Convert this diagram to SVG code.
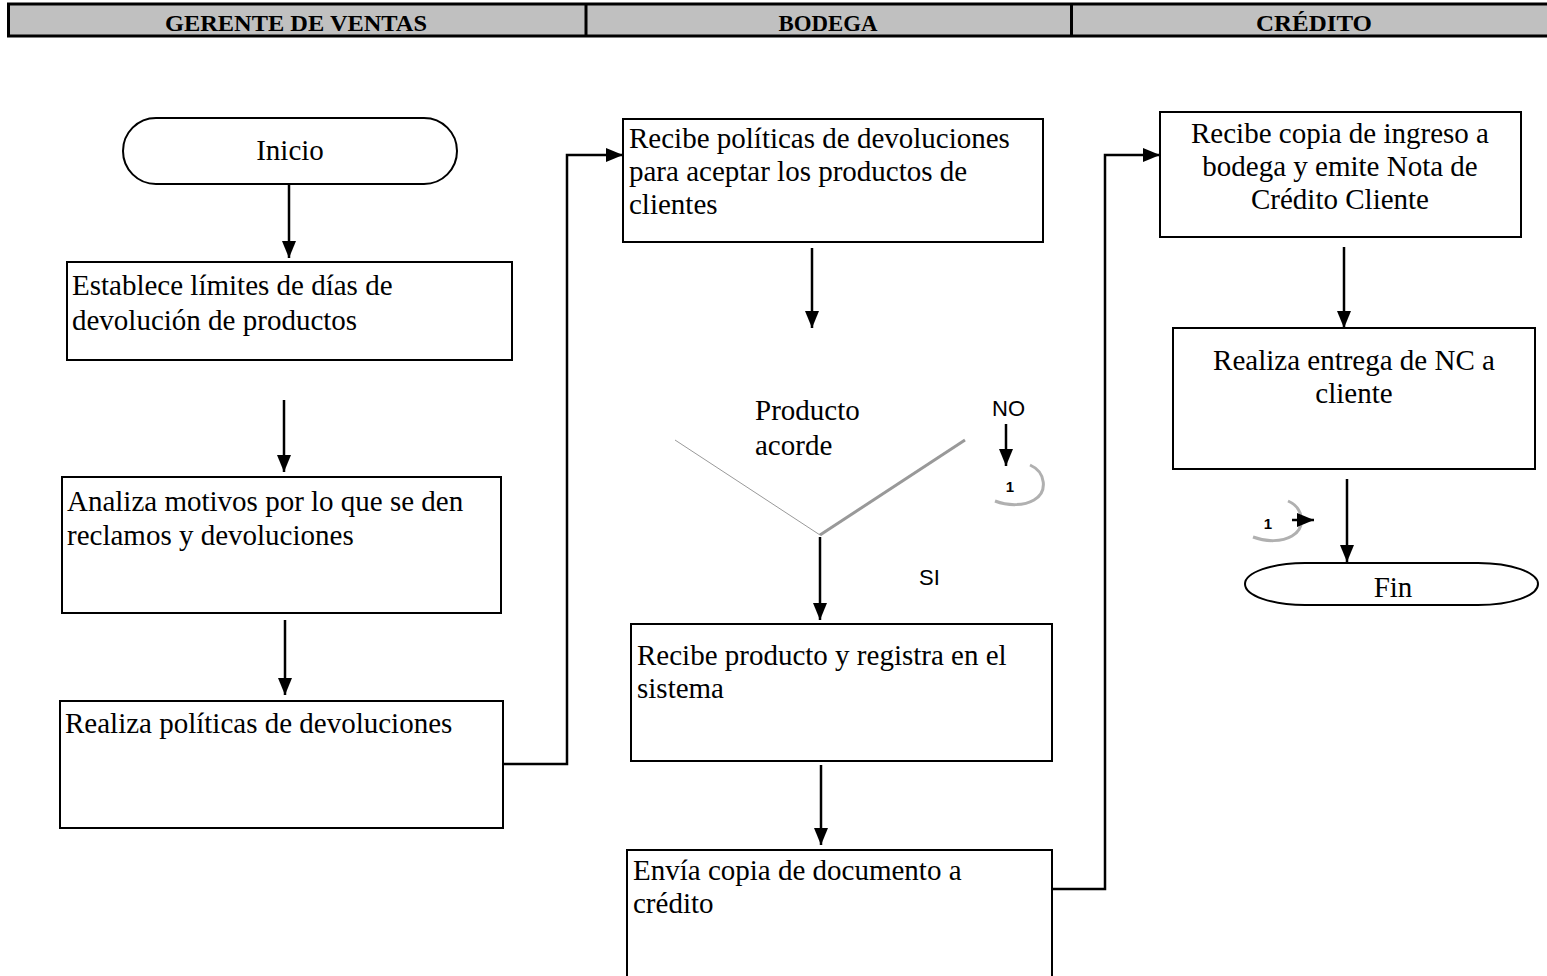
<svg xmlns="http://www.w3.org/2000/svg" width="1547" height="976" viewBox="0 0 1547 976">
<defs>
<marker id="ah" viewBox="0 0 17 14" refX="17" refY="7" markerWidth="17" markerHeight="14" markerUnits="userSpaceOnUse" orient="auto">
<path d="M0,0 L17,7 L0,14 z" fill="#000"/>
</marker>
</defs>
<style>
.box{fill:#fff;stroke:#000;stroke-width:2}
.t{font-family:"Liberation Serif","Times New Roman",serif;font-size:29px;fill:#000}
.c{text-anchor:middle}
.h{font-family:"Liberation Serif","Times New Roman",serif;font-size:23px;font-weight:bold;fill:#000;text-anchor:middle}
.a{font-family:"Liberation Sans",Arial,sans-serif;font-size:22px;fill:#000}
.n{font-family:"Liberation Sans",Arial,sans-serif;font-size:15px;font-weight:bold;fill:#000;text-anchor:middle}
.ar{fill:none;stroke:#000;stroke-width:2.5;marker-end:url(#ah)}
.sh{fill:none;stroke:#b0b0b0;stroke-width:3}
</style>
<rect width="1547" height="976" fill="#fff"/>
<g id="header">
<rect x="8.5" y="4" width="1545" height="32" fill="#c0c0c0" stroke="#000" stroke-width="3"/>
<line x1="586" y1="4" x2="586" y2="36" stroke="#000" stroke-width="3"/>
<line x1="1071.5" y1="4" x2="1071.5" y2="36" stroke="#000" stroke-width="3"/>
<text class="h" x="296" y="31" textLength="262" lengthAdjust="spacingAndGlyphs">GERENTE DE VENTAS</text>
<text class="h" x="828" y="31" textLength="99" lengthAdjust="spacingAndGlyphs">BODEGA</text>
<text class="h" x="1314" y="31" textLength="116" lengthAdjust="spacingAndGlyphs">CRÉDITO</text>
</g>
<g id="inicio">
<rect class="box" x="123" y="118" width="334" height="66" rx="33" ry="33"/>
<text class="t c" x="290" y="160">Inicio</text>
</g>
<g id="n1">
<rect class="box" x="67" y="262" width="445" height="98"/>
<text class="t" x="72" y="295">Establece límites de días de</text>
<text class="t" x="72" y="330">devolución de productos</text>
</g>
<g id="n2">
<rect class="box" x="62" y="477" width="439" height="136"/>
<text class="t" x="67" y="511">Analiza motivos por lo que se den</text>
<text class="t" x="67" y="545">reclamos y devoluciones</text>
</g>
<g id="n3">
<rect class="box" x="60" y="701" width="443" height="127"/>
<text class="t" x="65" y="733">Realiza políticas de devoluciones</text>
</g>
<g id="n4">
<rect class="box" x="623" y="119" width="420" height="123"/>
<text class="t" x="629" y="148">Recibe políticas de devoluciones</text>
<text class="t" x="629" y="181">para aceptar los productos de</text>
<text class="t" x="629" y="214">clientes</text>
</g>
<g id="decision">
<line x1="675" y1="440" x2="820" y2="535" stroke="#999" stroke-width="1"/>
<line x1="820" y1="535" x2="965" y2="440" stroke="#999" stroke-width="3"/>
<text class="t" x="755" y="420">Producto</text>
<text class="t" x="755" y="455">acorde</text>
</g>
<g id="con1a">
<path class="sh" d="M1030,465 C1046,472 1048,492 1034,500 C1024,506 1008,506 995,501"/>
<text class="n" x="1010" y="492">1</text>
</g>
<g id="n5">
<rect class="box" x="631" y="624" width="421" height="137"/>
<text class="t" x="637" y="665">Recibe producto y registra en el</text>
<text class="t" x="637" y="698">sistema</text>
</g>
<g id="n6">
<rect class="box" x="627" y="850" width="425" height="130"/>
<text class="t" x="633" y="880">Envía copia de documento a</text>
<text class="t" x="633" y="913">crédito</text>
</g>
<g id="n7">
<rect class="box" x="1160" y="112" width="361" height="125"/>
<text class="t c" x="1340" y="143">Recibe copia de ingreso a</text>
<text class="t c" x="1340" y="176">bodega y emite Nota de</text>
<text class="t c" x="1340" y="209">Crédito Cliente</text>
</g>
<g id="n8">
<rect class="box" x="1173" y="328" width="362" height="141"/>
<text class="t c" x="1354" y="370">Realiza entrega de NC a</text>
<text class="t c" x="1354" y="403">cliente</text>
</g>
<g id="con1b">
<path class="sh" d="M1288,501 C1304,508 1306,528 1292,536 C1282,542 1266,542 1253,537"/>
<text class="n" x="1268" y="529">1</text>
</g>
<g id="fin">
<rect class="box" x="1245" y="563" width="293" height="42" rx="60" ry="21"/>
<text class="t c" x="1393" y="597">Fin</text>
</g>
<g id="connectors">
<line class="ar" x1="289" y1="184" x2="289" y2="258"/>
<line class="ar" x1="284" y1="400" x2="284" y2="472"/>
<line class="ar" x1="285" y1="620" x2="285" y2="695"/>
<polyline class="ar" points="503,764 567,764 567,155 623,155"/>
<line class="ar" x1="812" y1="248" x2="812" y2="328"/>
<text class="a" x="992" y="416">NO</text>
<line class="ar" x1="1006" y1="424" x2="1006" y2="466"/>
<line class="ar" x1="820" y1="537" x2="820" y2="620"/>
<text class="a" x="919" y="585">SI</text>
<line class="ar" x1="821" y1="765" x2="821" y2="845"/>
<polyline class="ar" points="1052,889 1105,889 1105,155 1160,155"/>
<line class="ar" x1="1344" y1="247" x2="1344" y2="328"/>
<line class="ar" x1="1347" y1="479" x2="1347" y2="562"/>
<line class="ar" x1="1292" y1="520" x2="1314" y2="520"/>
</g>
</svg>
